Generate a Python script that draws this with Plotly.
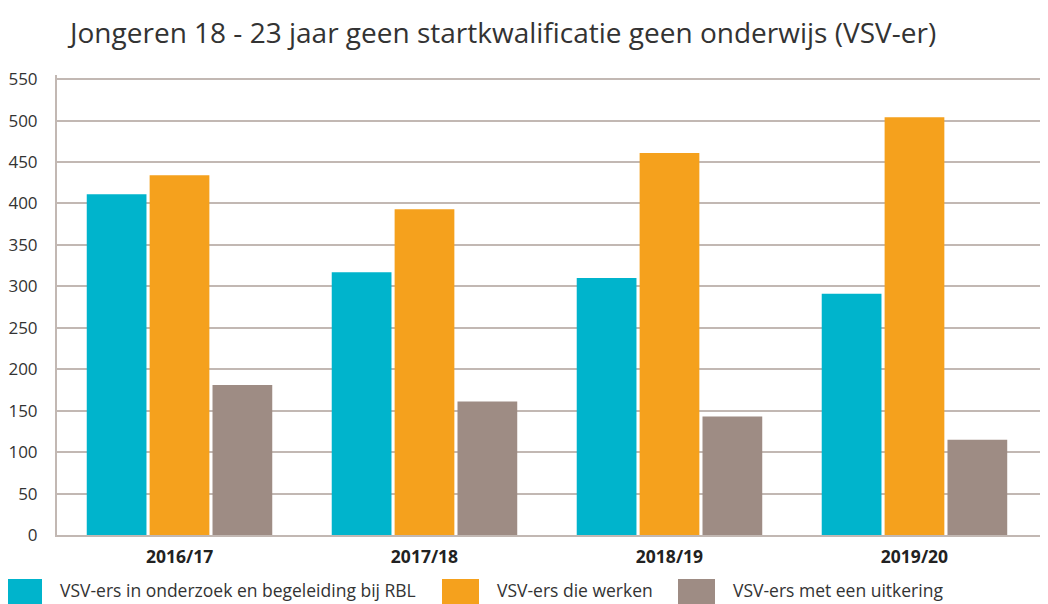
import plotly.graph_objects as go

# data
years = ['2016/17', '2017/18', '2018/19', '2019/20']
series_names = ['VSV-ers in onderzoek en begeleiding bij RBL', 'VSV-ers die werken', 'VSV-ers met een uitkering']
rbl = [411, 317, 310, 291]
werken = [434, 393, 461, 504]
uitkering = [181, 161, 143, 115]
colors = ['#00b4cc', '#f5a11d', '#9e8c84']
y_ticks = list(range(0, 551, 50))

# the page puts the plot 8px in from the corner, so the figure is 8px smaller
OFF = 8
W, H = 1048 - OFF, 604 - OFF
grid = '#c2b8b3'
txt = '#333333'
font = 'Open Sans'

fig = go.Figure()
for name, vals, col in zip(series_names, [rbl, werken, uitkering], colors):
    fig.add_trace(go.Bar(x=years, y=vals, name=name, marker=dict(color=col, line=dict(width=0))))

fig.update_layout(
    width=W, height=H,
    margin=dict(l=57 - OFF, r=0, t=75 - OFF, b=69),
    paper_bgcolor='white', plot_bgcolor='white',
    barmode='group', bargap=0.23, bargroupgap=0.05,
    showlegend=False,
    font=dict(family=font, color=txt),
    title=dict(text='Jongeren 18 - 23 jaar geen startkwalificatie geen onderwijs (VSV-er)',
               x=(70 - OFF) / W, xref='container', xanchor='left',
               y=1 - (33 - OFF) / H, yref='container', yanchor='middle',
               font=dict(family=font, size=28, color=txt)),
)
fig.update_xaxes(range=[-0.5, 3.545], showline=True, linecolor=grid, linewidth=2,
                 showgrid=False, ticks='', ticklabelstandoff=5,
                 tickfont=dict(size=17.5, color='#222222', weight='bold'))
fig.update_yaxes(range=[0, 555], tickvals=y_ticks, showgrid=True, gridcolor=grid, gridwidth=2,
                 showline=True, linecolor=grid, linewidth=2, zeroline=False, ticks='',
                 ticklabelstandoff=14, tickfont=dict(size=17, color=txt))

# legend drawn as big swatches below the chart, as in the reference
plot_w = 1048 - 57
leg_x = [5, 442, 678]
for name, col, x0 in zip(series_names, colors, leg_x):
    fig.add_shape(type='rect', xref='paper', yref='paper',
                  x0=(x0 - 57) / plot_w, x1=(x0 + 37 - 57) / plot_w,
                  y0=-69 / 460, y1=(535 - 579) / 460,
                  fillcolor=col, line=dict(width=0))
    fig.add_annotation(text=name, xref='paper', yref='paper', showarrow=False,
                       x=(x0 + 53 - 57) / plot_w, xanchor='left',
                       y=(535 - 590) / 460, yanchor='middle',
                       font=dict(size=17.5, color=txt))

fig.write_html('out.html')
